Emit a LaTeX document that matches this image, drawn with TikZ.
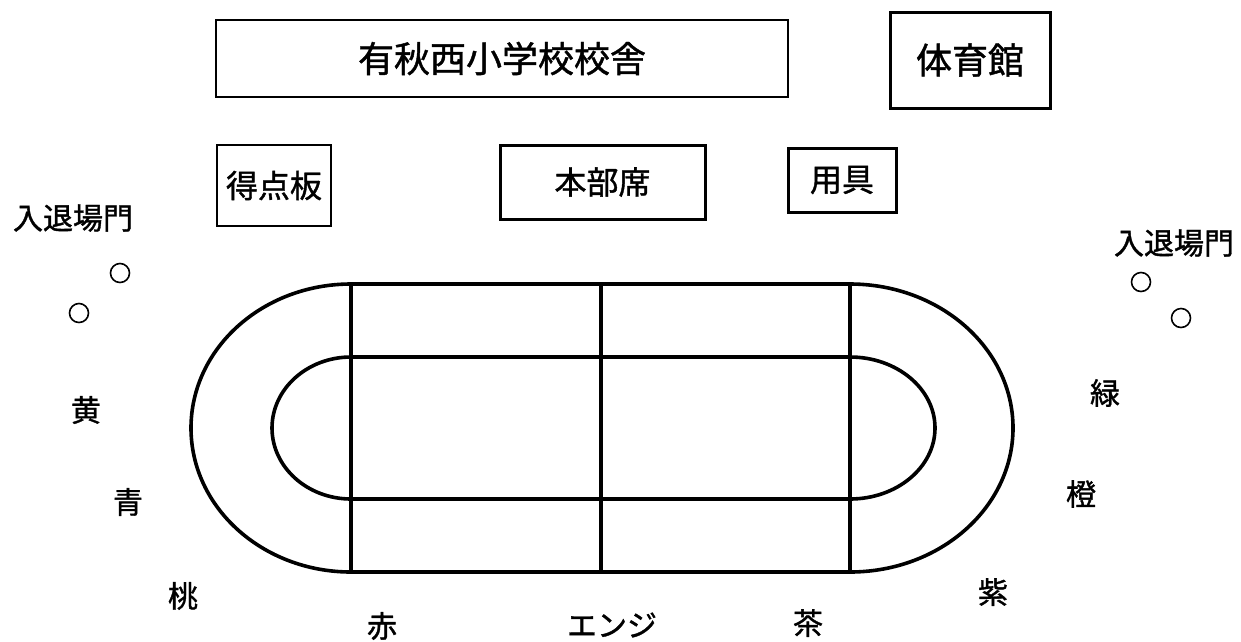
\documentclass[tikz,border=0pt]{standalone}
\usepackage{fontspec}
\newfontfamily\jp[FakeBold=1.2]{Noto Sans CJK JP}
\begin{document}
\begin{tikzpicture}[x=1pt,y=-1pt,
  box/.style={draw,line width=#1,inner sep=0pt,font=\jp\fontsize{32}{32}\selectfont},
  lbl/.style={inner sep=0pt,font=\jp\fontsize{30}{30}\selectfont},
  track/.style={line width=3.6pt,line join=round},
  gate/.style={circle,draw,line width=1.6pt,minimum size=19pt,inner sep=0pt}]
\useasboundingbox (0,0) rectangle (1241,641);
% buildings and tents
\node[box=2pt,minimum width=572pt,minimum height=77pt,font=\jp\fontsize{36}{36}\selectfont] (school) at (502,58.5) {有秋西小学校校舎};
\node[box=3pt,minimum width=160pt,minimum height=96pt,font=\jp\fontsize{36}{36}\selectfont] (gym) at (970,60) {体育館};
\node[box=1.5pt,minimum width=114pt,minimum height=81pt] (score) at (274,185.5) {得点板};
\node[box=3pt,minimum width=205pt,minimum height=74pt] (hq) at (602.5,182) {本部席};
\node[box=3pt,minimum width=108pt,minimum height=64pt] (tools) at (842,180) {用具};
% gates
\node[lbl] (gateL) at (73,218) {入退場門};
\node[lbl] (gateR) at (1174,243) {入退場門};
\node[gate] (gl1) at (120,273) {};
\node[gate] (gl2) at (79,313) {};
\node[gate] (gr1) at (1141,282) {};
\node[gate] (gr2) at (1181,318) {};
% track
\coordinate (otl) at (351,284);
\coordinate (otr) at (850,284);
\coordinate (obl) at (351,572);
\coordinate (obr) at (850,572);
\coordinate (itl) at (351,357);
\coordinate (itr) at (850,357);
\coordinate (ibl) at (351,499);
\coordinate (ibr) at (850,499);
\coordinate (omt) at (601,284);
\coordinate (omb) at (601,572);
\draw[track] (otl) -- (otr) arc[start angle=90,end angle=-90,x radius=163pt,y radius=144pt]
  -- (obl) arc[start angle=270,end angle=90,x radius=160pt,y radius=144pt] -- cycle;
\draw[track] (itl) -- (itr) arc[start angle=90,end angle=-90,x radius=85pt,y radius=71pt]
  -- (ibl) arc[start angle=270,end angle=90,x radius=79pt,y radius=71pt] -- cycle;
\draw[track] (otl) -- (obl);
\draw[track] (omt) -- (omb);
\draw[track] (otr) -- (obr);
% team labels
\node[lbl] (yellow) at (86,410) {黄};
\node[lbl] (blue) at (128,502) {青};
\node[lbl] (peach) at (183,596) {桃};
\node[lbl] (red) at (382,626) {赤};
\node[lbl] (enji) at (612,625) {エンジ};
\node[lbl] (brown) at (808,623) {茶};
\node[lbl] (purple) at (993,592) {紫};
\node[lbl] (orange) at (1081,494) {橙};
\node[lbl] (green) at (1105,393) {緑};
\end{tikzpicture}
\end{document}
